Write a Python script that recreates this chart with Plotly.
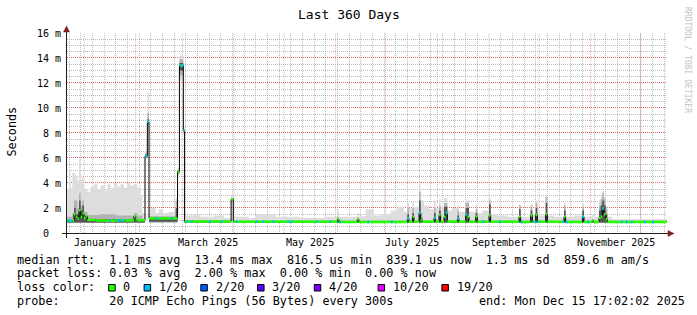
import plotly.graph_objects as go
import pandas as pd

RANGE_START = "2024-12-21 19:00"
RANGE_END = "2025-12-16 19:00"

# ---------------- data ----------------
# median rtt in ms (step value starting at each date)
med_dates = ["2024-12-21 19:00", "2024-12-25", "2024-12-26", "2024-12-27", "2024-12-28", "2024-12-29",
             "2024-12-30", "2024-12-31", "2025-01-01", "2025-01-02", "2025-01-03", "2025-01-08",
             "2025-01-14", "2025-01-20", "2025-01-26", "2025-01-31", "2025-02-01", "2025-02-02",
             "2025-02-06 14:00", "2025-02-08", "2025-02-09", "2025-02-26 03:00", "2025-02-27 06:00",
             "2025-03-01 14:00", "2025-03-02 08:00", "2025-03-30 06:00", "2025-03-31 14:00",
             "2025-06-02", "2025-06-03", "2025-06-14", "2025-06-15", "2025-07-14", "2025-07-15",
             "2025-07-17", "2025-07-18", "2025-07-21", "2025-07-22", "2025-07-23", "2025-07-30",
             "2025-07-31", "2025-08-02", "2025-08-03", "2025-08-05", "2025-08-06", "2025-08-07",
             "2025-08-13", "2025-08-14", "2025-08-18", "2025-08-19", "2025-08-20", "2025-08-24",
             "2025-08-25", "2025-09-01", "2025-09-02", "2025-09-19", "2025-09-20", "2025-09-26",
             "2025-09-27", "2025-09-29", "2025-09-30", "2025-10-05", "2025-10-06", "2025-10-16",
             "2025-10-17", "2025-10-27", "2025-10-28", "2025-11-02", "2025-11-03", "2025-11-06",
             "2025-11-07", "2025-11-08", "2025-11-09", "2025-11-10", "2025-11-11", "2025-12-16 19:00"]
med_vals = [0.97, 1.0, 1.5, 1.3, 1.15, 1.8,
            1.3, 1.55, 1.2, 1.35, 1.05, 1.0,
            0.98, 1.02, 1.0, 1.35, 1.1, 1.02,
            6.15, 8.9, 1.17, 4.9, 13.4,
            8.2, 0.92, 2.7, 0.9,
            1.1, 0.88, 1.1, 0.88, 1.15, 0.9,
            1.3, 0.9, 1.6, 1.05, 0.9, 1.2,
            0.92, 1.45, 0.92, 1.3, 1.6, 0.92,
            1.15, 0.9, 1.45, 1.3, 0.9, 1.3,
            0.9, 1.4, 0.9, 1.3, 0.88, 1.4,
            0.9, 1.45, 0.9, 1.5, 0.9, 1.3,
            0.88, 1.3, 0.88, 1.0, 0.88, 1.2,
            1.3, 1.95, 1.5, 1.1, 0.88, 0.86]

# dates where the median was drawn in the 1/20 loss colour
loss1_dates = ["2024-12-22", "2024-12-23 12:00", "2025-01-16", "2025-01-21", "2025-01-22", "2025-01-24",
               "2025-02-06 14:00", "2025-02-08", "2025-02-13", "2025-02-22", "2025-02-27 18:00",
               "2025-02-28 12:00", "2025-03-01 14:00", "2025-03-03", "2025-03-06", "2025-03-17",
               "2025-03-24", "2025-04-02", "2025-04-14", "2025-04-18", "2025-04-24", "2025-05-03",
               "2025-05-05", "2025-05-20", "2025-05-28", "2025-06-03", "2025-06-20", "2025-07-04",
               "2025-07-14", "2025-07-21", "2025-07-30", "2025-08-06", "2025-08-13", "2025-08-18",
               "2025-08-28", "2025-09-07", "2025-09-20", "2025-09-27", "2025-09-30", "2025-10-15",
               "2025-10-17", "2025-10-27", "2025-10-30", "2025-11-08", "2025-11-19", "2025-11-22",
               "2025-11-25", "2025-12-03", "2025-12-08"]

# outer (light) smoke: min .. max ping, ms
light_dates = ["2024-12-21 19:00", "2024-12-23", "2024-12-24", "2024-12-25", "2024-12-27", "2024-12-28",
               "2024-12-29", "2024-12-30", "2024-12-31", "2025-01-01", "2025-01-03", "2025-01-05",
               "2025-01-07", "2025-01-09", "2025-01-11", "2025-01-13", "2025-01-15", "2025-01-17",
               "2025-01-19", "2025-01-21", "2025-01-23", "2025-01-25", "2025-01-27", "2025-01-29",
               "2025-01-31", "2025-02-02", "2025-02-04", "2025-02-05", "2025-02-06 14:00", "2025-02-08",
               "2025-02-09", "2025-02-13", "2025-02-15", "2025-02-17", "2025-02-21", "2025-02-25",
               "2025-02-26 03:00", "2025-02-27 06:00", "2025-03-01 14:00", "2025-03-02 08:00",
               "2025-03-08", "2025-03-12", "2025-03-20", "2025-03-26", "2025-03-30 06:00",
               "2025-03-31 14:00", "2025-04-10", "2025-04-14", "2025-04-26", "2025-05-10", "2025-05-25",
               "2025-06-02", "2025-06-03", "2025-06-14", "2025-06-15", "2025-06-19", "2025-06-24",
               "2025-06-28", "2025-07-04", "2025-07-08", "2025-07-12", "2025-07-14", "2025-07-15",
               "2025-07-17", "2025-07-18", "2025-07-21", "2025-07-22", "2025-07-24", "2025-07-27",
               "2025-07-30", "2025-07-31", "2025-08-02", "2025-08-03", "2025-08-05", "2025-08-07",
               "2025-08-10", "2025-08-13", "2025-08-14", "2025-08-18", "2025-08-20", "2025-08-24",
               "2025-08-25", "2025-08-28", "2025-09-01", "2025-09-02", "2025-09-06", "2025-09-12",
               "2025-09-19", "2025-09-20", "2025-09-26", "2025-09-27", "2025-09-29", "2025-09-30",
               "2025-10-05", "2025-10-06", "2025-10-10", "2025-10-16", "2025-10-17", "2025-10-22",
               "2025-10-27", "2025-10-28", "2025-11-02", "2025-11-03", "2025-11-06", "2025-11-07",
               "2025-11-08", "2025-11-09", "2025-11-10", "2025-11-11", "2025-11-14", "2025-12-16 19:00"]
light_high = [3.5, 5.0, 3.6, 4.8, 4.5, 4.2,
              5.9, 4.3, 4.5, 3.5, 3.3, 3.7,
              3.9, 3.5, 3.8, 3.4, 3.9, 3.6,
              4.0, 3.7, 3.9, 3.6, 4.0, 3.8,
              3.9, 3.6, 3.0, 1.6, 6.6, 11.2,
              2.0, 1.6, 1.9, 1.6, 1.7, 2.8,
              5.2, 14.2, 8.5, 1.4,
              1.5, 1.3, 1.4, 1.2, 3.0,
              1.3, 1.2, 1.5, 1.3, 1.2, 1.3,
              1.8, 1.3, 1.6, 1.35, 1.9, 1.4,
              1.5, 1.8, 2.1, 1.7, 2.4, 2.0,
              2.5, 2.1, 4.1, 2.6, 2.2, 1.9,
              2.6, 2.0, 2.7, 2.1, 2.8, 1.8,
              2.0, 2.2, 1.7, 2.6, 1.7, 2.2,
              1.6, 1.8, 2.8, 1.5, 1.4, 1.3,
              2.3, 1.3, 2.3, 1.5, 2.6, 1.4,
              3.0, 1.4, 1.3, 2.4, 1.3, 1.4,
              2.3, 1.3, 1.5, 1.3, 2.6, 3.1,
              3.4, 2.9, 2.2, 1.3, 1.1, 1.1]
light_low = ([0.8] * 28 + [5.9, 8.5, 0.8, 0.8, 0.8, 0.8, 0.8, 0.8, 4.6, 12.2, 7.8, 0.8,
                           0.8, 0.8, 0.8, 0.8, 2.3])
light_low += [0.8] * (len(light_dates) - len(light_low))

# middle smoke band
mid_dates = ["2024-12-21 19:00", "2024-12-25", "2024-12-26", "2024-12-28", "2024-12-29", "2024-12-30",
             "2024-12-31", "2025-01-01", "2025-01-03", "2025-01-10", "2025-01-20", "2025-01-31",
             "2025-02-02", "2025-02-05", "2025-02-06 14:00", "2025-02-08", "2025-02-09", "2025-02-25",
             "2025-02-26 03:00", "2025-02-27 06:00", "2025-03-01 14:00", "2025-03-02 08:00",
             "2025-03-30 06:00", "2025-03-31 14:00", "2025-06-02", "2025-06-03", "2025-06-14",
             "2025-06-15", "2025-07-14", "2025-07-15", "2025-07-17", "2025-07-18", "2025-07-21",
             "2025-07-22", "2025-07-23", "2025-07-30", "2025-07-31", "2025-08-02", "2025-08-03",
             "2025-08-05", "2025-08-07", "2025-08-13", "2025-08-14", "2025-08-18", "2025-08-20",
             "2025-08-24", "2025-08-25", "2025-09-01", "2025-09-02", "2025-09-19", "2025-09-20",
             "2025-09-26", "2025-09-27", "2025-09-29", "2025-09-30", "2025-10-05", "2025-10-06",
             "2025-10-16", "2025-10-17", "2025-10-27", "2025-10-28", "2025-11-06", "2025-11-07",
             "2025-11-08", "2025-11-09", "2025-11-10", "2025-11-11", "2025-12-16 19:00"]
mid_high = [1.3, 1.6, 2.6, 2.0, 3.2, 2.2,
            2.6, 1.7, 1.45, 1.5, 1.4, 1.6,
            1.4, 1.1, 6.4, 9.6, 1.35, 2.6,
            5.0, 13.9, 8.3, 1.05,
            2.8, 1.0, 1.3, 1.0, 1.25,
            1.0, 2.0, 1.0, 2.0, 1.0, 3.3,
            1.6, 1.0, 2.0, 1.0, 2.2, 1.0,
            2.4, 1.0, 1.8, 1.0, 2.4, 1.0,
            1.9, 1.0, 2.6, 1.0, 2.2, 1.0,
            2.2, 1.0, 2.4, 1.0, 2.9, 1.0,
            2.2, 1.0, 2.1, 1.0, 2.2, 2.7,
            3.2, 2.7, 1.9, 1.0, 1.0]
mid_low = [0.8] * 14 + [6.0, 8.7, 0.85, 0.85, 4.7, 12.6, 8.0, 0.8, 2.5]
mid_low += [0.8] * (len(mid_dates) - len(mid_low))

# dark core of the smoke
dark_dates = ["2024-12-21 19:00", "2024-12-26", "2024-12-27", "2024-12-29", "2024-12-30", "2024-12-31",
              "2025-01-01", "2025-01-03", "2025-02-05", "2025-02-06 14:00", "2025-02-08", "2025-02-09",
              "2025-02-25", "2025-02-26 03:00", "2025-02-27 06:00", "2025-03-01 14:00",
              "2025-03-02 08:00", "2025-03-30 06:00", "2025-03-31 14:00", "2025-07-14", "2025-07-15",
              "2025-07-17", "2025-07-18", "2025-07-21", "2025-07-22", "2025-07-23", "2025-07-30",
              "2025-07-31", "2025-08-02", "2025-08-03", "2025-08-05", "2025-08-07", "2025-08-13",
              "2025-08-14", "2025-08-18", "2025-08-20", "2025-08-24", "2025-08-25", "2025-09-01",
              "2025-09-02", "2025-09-19", "2025-09-20", "2025-09-26", "2025-09-27", "2025-09-29",
              "2025-09-30", "2025-10-05", "2025-10-06", "2025-10-16", "2025-10-17", "2025-10-27",
              "2025-10-28", "2025-11-06", "2025-11-07", "2025-11-08", "2025-11-09", "2025-11-10",
              "2025-11-11", "2025-12-16 19:00"]
dark_high = [1.05, 2.0, 1.5, 2.6, 1.8, 2.2,
             1.3, 1.1, 1.0, 6.25, 9.1, 1.25,
             2.0, 5.0, 13.6, 8.3,
             0.95, 2.8, 0.95, 1.5, 0.95,
             1.6, 0.95, 2.6, 1.2, 0.95, 1.6,
             0.95, 1.8, 0.95, 2.1, 0.95, 1.4,
             0.95, 2.0, 0.95, 1.6, 0.95, 2.3,
             0.95, 1.9, 0.95, 1.8, 0.95, 2.0,
             0.95, 2.4, 0.95, 1.8, 0.95, 1.8,
             0.95, 1.8, 2.2, 2.6, 2.2, 1.5,
             0.95, 0.95]
dark_low = [0.85] * 9 + [6.05, 8.8, 0.9, 0.9, 4.8, 13.0, 8.1, 0.85, 2.6]
dark_low += [0.85] * (len(dark_dates) - len(dark_low))

# axes / legend text
y_ticks = [0, 2, 4, 6, 8, 10, 12, 14, 16]
y_tick_text = ["0\u00a0\u00a0", "2 m", "4 m", "6 m", "8 m", "10 m", "12 m", "14 m", "16 m"]
y_minor = [0.5, 1, 1.5, 2.5, 3, 3.5, 4.5, 5, 5.5, 6.5, 7, 7.5, 8.5, 9, 9.5, 10.5, 11, 11.5,
           12.5, 13, 13.5, 14.5, 15, 15.5]
month_starts = ["2025-01-01", "2025-02-01", "2025-03-01", "2025-04-01", "2025-05-01", "2025-06-01",
                "2025-07-01", "2025-08-01", "2025-09-01", "2025-10-01", "2025-11-01", "2025-12-01",
                "2026-01-01"]
label_months = ["2025-01-01", "2025-03-01", "2025-05-01", "2025-07-01", "2025-09-01", "2025-11-01"]
label_text = ["January 2025", "March 2025", "May 2025", "July 2025", "September 2025", "November 2025"]

loss_labels = ["0", "1/20", "2/20", "3/20", "4/20", "10/20", "19/20"]
loss_colors = ["#26ff00", "#00b8ff", "#0059ff", "#5e00ff", "#7e00ff", "#dd00ff", "#ff0000"]

row_rtt = "median rtt:  1.1 ms avg  13.4 ms max  816.5 us min  839.1 us now  1.3 ms sd  859.6 m am/s"
row_loss = "packet loss: 0.03 % avg  2.00 % max  0.00 % min  0.00 % now"
row_probe = "probe:       20 ICMP Echo Pings (56 Bytes) every 300s"
row_end = "end: Mon Dec 15 17:02:02 2025"

# ---------------- geometry helpers (pixel -> paper) ----------------
PL, PR, PT, PB = 67, 667, 33, 233
def px(x):
    return (x - PL) / (PR - PL)
def py(y):
    return (PB - y) / (PB - PT)

MONO = "DejaVu Sans Mono"
CHAR_W = 7.09
FS = 11.8
HALF_PX = 0.5 * 16 / (PB - PT)   # half a pixel in y units, keeps 1px lines crisp

def ts(lst):
    return pd.to_datetime(lst, format="ISO8601")

fig = go.Figure()

def band(dates, low, high, color):
    d = ts(dates)
    fig.add_trace(go.Scatter(x=d, y=low, mode="lines", line=dict(width=0, shape="hv"),
                             hoverinfo="skip", showlegend=False))
    fig.add_trace(go.Scatter(x=d, y=high, mode="lines", line=dict(width=0, shape="hv"),
                             fill="tonexty", fillcolor=color, hoverinfo="skip", showlegend=False))

band(light_dates, light_low, light_high, "#dddddd")
band(mid_dates, mid_low, mid_high, "#b3b3b3")
band(dark_dates, dark_low, dark_high, "#555555")

# median: black step line, coloured horizontal pieces on top
med_ts = ts(med_dates)
fig.add_trace(go.Scatter(x=med_ts, y=med_vals, mode="lines",
                         line=dict(color="black", width=1, shape="hv"), showlegend=False))

gx, gy = [], []
for i in range(len(med_ts) - 1):
    gx += [med_ts[i], med_ts[i + 1], None]
    gy += [med_vals[i], med_vals[i], None]
fig.add_trace(go.Scatter(x=gx, y=gy, mode="lines", line=dict(color=loss_colors[0], width=2.5),
                         showlegend=False))

bx, by = [], []
for d in ts(loss1_dates):
    i = med_ts.searchsorted(d, side="right") - 1
    end = min(d + pd.Timedelta(hours=28), med_ts[i + 1])
    bx += [d, end, None]
    by += [med_vals[i], med_vals[i], None]
fig.add_trace(go.Scatter(x=bx, y=by, mode="lines", line=dict(color=loss_colors[1], width=2.5),
                         showlegend=False))

MGRID = "rgba(222,70,70,0.85)"
MGRID_V = "rgba(222,79,79,0.5)"
GRID = "rgba(143,143,143,0.6)"
shapes = []

# major gridlines: months (vertical) and every 2 ms (horizontal)
for m in month_starts:
    shapes.append(dict(type="line", xref="x", yref="paper", x0=m, x1=m, y0=0, y1=1, layer="below",
                       line=dict(color=MGRID_V, width=1, dash="1px,1px")))
for v in y_ticks[1:]:
    shapes.append(dict(type="line", xref="paper", yref="y", x0=0, x1=1, y0=v + HALF_PX, y1=v + HALF_PX,
                       layer="below", line=dict(color=MGRID, width=1, dash="1px,1px")))

# axes lines and arrows
AXIS = "#1f1f1f"
ARROW = "#7f1f1f"
shapes.append(dict(type="line", xref="paper", yref="paper", x0=px(62), x1=px(668), y0=py(233.5), y1=py(233.5),
                   line=dict(color=AXIS, width=1)))
shapes.append(dict(type="line", xref="paper", yref="paper", x0=px(66.5), x1=px(66.5), y0=py(238), y1=py(30),
                   line=dict(color=AXIS, width=1)))
shapes.append(dict(type="path", xref="paper", yref="paper",
                   path=f"M {px(66.5)},{py(26)} L {px(63.5)},{py(32)} L {px(69.5)},{py(32)} Z",
                   fillcolor=ARROW, line=dict(color=ARROW, width=0.5)))
shapes.append(dict(type="path", xref="paper", yref="paper",
                   path=f"M {px(674)},{py(233.5)} L {px(668)},{py(230.5)} L {px(668)},{py(236.5)} Z",
                   fillcolor=ARROW, line=dict(color=ARROW, width=0.5)))

# legend colour boxes
box_chars = [13, 18, 26, 34, 42, 51, 60]
label_chars = [15, 20, 28, 36, 44, 53, 62]
for c, col in zip(box_chars, loss_colors):
    x0 = 16 + c * CHAR_W
    shapes.append(dict(type="rect", xref="paper", yref="paper", x0=px(x0 + 0.5), x1=px(x0 + 7),
                       y0=py(291), y1=py(284.5), fillcolor=col, line=dict(color="black", width=1)))

# month labels: centred in the middle of each labelled month
ms = ts(month_starts)
label_mid = []
for lm in ts(label_months):
    j = ms.get_loc(lm)
    label_mid.append(lm + (ms[j + 1] - lm) / 2)

def nb(s):
    return s.replace(" ", "\u00a0")

ann = []
def text(x, y, s, size=FS, xanchor="left", color="black", angle=0):
    ann.append(dict(x=px(x), y=py(y), xref="paper", yref="paper", text=nb(s), showarrow=False,
                    xanchor=xanchor, yanchor="middle", textangle=angle, borderpad=0,
                    font=dict(family=MONO, size=size, color=color)))

for xm, lab in zip(label_mid, label_text):
    ann.append(dict(x=xm, y=py(242.3), xref="x", yref="paper", text=nb(lab), showarrow=False,
                    xanchor="center", yanchor="middle", borderpad=0,
                    font=dict(family=MONO, size=10, color="black")))

text(348.5, 14, "Last 360 Days", size=13, xanchor="center")
text(11.5, 132, "Seconds", size=FS, xanchor="center", angle=-90)
text(687.5, 59.5, "RRDTOOL / TOBI OETIKER", size=8, xanchor="center", color="#c4c4c4", angle=90)
text(16, 259.8, row_rtt)
text(16, 273.2, row_loss)
text(16, 287.4, "loss color:")
for c, lab in zip(label_chars, loss_labels):
    text(16 + c * CHAR_W, 287.4, lab)
text(16, 301.3, row_probe)
text(478.3, 301.3, row_end)

fig.update_layout(
    width=697, height=315,
    margin=dict(l=PL, r=697 - PR, t=PT, b=315 - PB, pad=0),
    paper_bgcolor="white", plot_bgcolor="white", showlegend=False,
    font=dict(family=MONO, color="black"),
    shapes=shapes, annotations=ann,
    xaxis=dict(type="date", range=[RANGE_START, RANGE_END], zeroline=False, showline=False,
               showticklabels=False, ticks="", showgrid=False,
               minor=dict(tick0="2025-01-06", dtick=7 * 86400000, showgrid=True,
                          gridcolor=GRID, griddash="1px,1px", gridwidth=1)),
    yaxis=dict(range=[0, 16], tickmode="array", tickvals=y_ticks, ticktext=y_tick_text,
               showgrid=False, zeroline=False, showline=False, ticks="", ticklabelstandoff=5,
               tickfont=dict(family=MONO, size=10, color="black"),
               minor=dict(tickmode="array", tickvals=y_minor, showgrid=True, gridcolor=GRID,
                          griddash="1px,1px", gridwidth=1)),
)

fig.write_html("out.html")
